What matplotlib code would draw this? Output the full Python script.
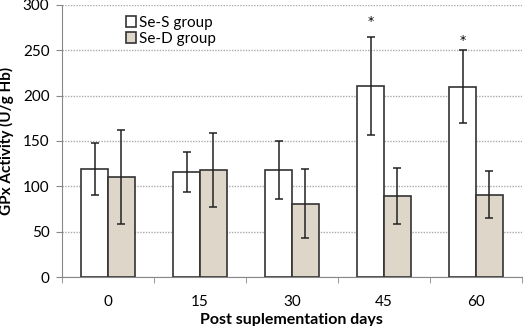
import numpy as np
import matplotlib.pyplot as plt

plt.rcParams["font.family"] = ["Lato", "DejaVu Sans"]

# data
days = ["0", "15", "30", "45", "60"]
se_s = [119, 116, 118, 211, 210]
se_s_err = [29, 22, 32, 54, 40]
se_d = [110, 118, 81, 89, 91]
se_d_err = [52, 41, 38, 31, 26]
# height of the significance star (None = no star)
star_y = [None, None, None, 282, 261]

fig = plt.figure(figsize=(5.25, 3.26), dpi=100)
ax = fig.add_axes([0.118, 0.150, 0.876, 0.835])

x = np.arange(len(days))
w = 0.29

ax.bar(x - w / 2, se_s, w, color="white", edgecolor="#333333", linewidth=1.2,
       yerr=se_s_err, error_kw=dict(ecolor="#222222", elinewidth=1.1, capsize=3, capthick=1.1),
       label="Se-S group", zorder=3)
ax.bar(x + w / 2, se_d, w, color="#ddd6c9", edgecolor="#333333", linewidth=1.2,
       yerr=se_d_err, error_kw=dict(ecolor="#222222", elinewidth=1.1, capsize=3, capthick=1.1),
       label="Se-D group", zorder=3)

for i, sy in enumerate(star_y):
    if sy is not None:
        ax.text(x[i] - w / 2, sy, "*", ha="center", va="center",
                fontsize=9, family="DejaVu Sans")

ax.set_xlim(-0.5, len(days) - 0.5)
ax.set_ylim(0, 300)
ax.set_yticks(range(0, 301, 50))
ax.set_xticks(x)
ax.set_xticklabels(days)
ax.set_xticks(np.arange(-0.5, len(days), 1), minor=True)
ax.tick_params(axis="x", which="major", length=0, labelsize=11, pad=13)
ax.tick_params(axis="x", which="minor", length=4, color="#888888")
ax.tick_params(axis="y", length=4, color="#888888", labelsize=11, pad=5)

ax.grid(axis="y", color="#aaaaaa", linestyle=(0, (1, 1)), linewidth=1, zorder=0)
for side in ["top", "right"]:
    ax.spines[side].set_visible(False)
ax.spines["left"].set_color("#888888")
ax.spines["bottom"].set_color("#888888")

ax.set_xlabel("Post suplementation days", fontsize=11.5, fontweight="bold", labelpad=3)
ax.set_ylabel("GPx Activity (U/g Hb)", fontsize=11, fontweight="bold", labelpad=6)

ax.legend(loc="upper left", bbox_to_anchor=(0.115, 1.0), frameon=False, fontsize=11,
          handlelength=0.7, handleheight=0.7, handletextpad=0.2, labelspacing=0.15,
          borderaxespad=0.3)

fig.savefig("out.png", dpi=100)
